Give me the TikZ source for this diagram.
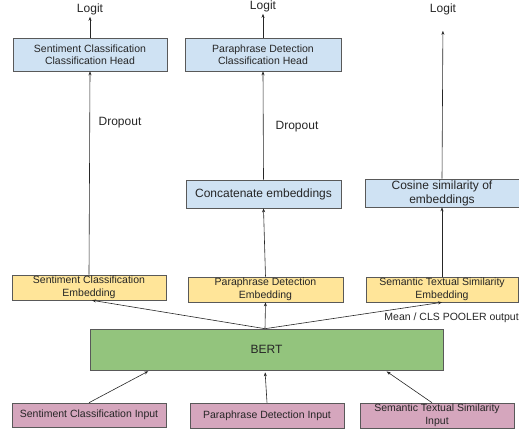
\documentclass[tikz,border=0pt]{standalone}
\usepackage{fontspec}
\setmainfont{Liberation Sans}
\usetikzlibrary{arrows.meta}
\definecolor{headblue}{HTML}{CFE2F3}
\definecolor{embyellow}{HTML}{FFE599}
\definecolor{bertgreen}{HTML}{93C47D}
\definecolor{inpink}{HTML}{D5A6BD}
\definecolor{edgegrey}{HTML}{595959}
\tikzset{
  box/.style={draw=edgegrey, line width=0.6pt, inner sep=0pt, align=center,
    text=black!85, font=\fontsize{10.5}{12.5}\selectfont},
  bigbox/.style={box, font=\fontsize{12}{14}\selectfont},
  lbl/.style={inner sep=0pt, text=black!85, font=\fontsize{12}{14}\selectfont},
  arr/.style={-{Stealth[length=4pt,width=3pt]}, draw=black!85, line width=0.6pt}
}
\begin{document}
\begin{tikzpicture}[x=1pt,y=-1pt]
        \useasboundingbox (0,0) rectangle (519,434);
        % heads and logits
        \node[box,fill=headblue,minimum width=154pt,minimum height=33pt] (headSA) at (90,54.5) {Sentiment Classification\\Classification Head};
        \node[box,fill=headblue,minimum width=156pt,minimum height=33pt] (headPD) at (263,54.5) {Paraphrase Detection\\Classification Head};
        \node[lbl] (logitSA) at (90,9) {Logit};
        \node[lbl] (logitPD) at (263,6) {Logit};
        \node[lbl] (logitSTS) at (443,9) {Logit};
        \node[lbl] (dropSA) at (120,123) {Dropout};
        \node[lbl] (dropPD) at (297,127) {Dropout};
        % middle boxes
        \node[bigbox,fill=headblue,minimum width=155pt,minimum height=28pt] (concat) at (263.5,194) {Concatenate embeddings};
        \node[bigbox,fill=headblue,minimum width=154pt,minimum height=28pt] (cosine) at (442,193) {Cosine similarity of\\embeddings};
        % embeddings
        \node[box,fill=embyellow,minimum width=154pt,minimum height=25pt] (embSA) at (89,287.5) {Sentiment Classification\\Embedding};
        \node[box,fill=embyellow,minimum width=155pt,minimum height=25pt] (embPD) at (265.5,289.5) {Paraphrase Detection\\Embedding};
        \node[box,fill=embyellow,minimum width=152pt,minimum height=25pt] (embSTS) at (442,289.5) {Semantic Textual Similarity\\Embedding};
        \node[box,draw=none,anchor=east] (pooler) at (519,318) {Mean / CLS POOLER output};
        % bert and inputs
        \node[bigbox,fill=bertgreen,minimum width=353pt,minimum height=41pt] (bert) at (266.5,349.5) {BERT};
        \node[box,fill=inpink,minimum width=154pt,minimum height=24pt] (inSA) at (89,415) {Sentiment Classification Input};
        \node[box,fill=inpink,minimum width=154pt,minimum height=25pt] (inPD) at (267,415.5) {Paraphrase Detection Input};
        \node[box,fill=inpink,minimum width=154pt,minimum height=25pt] (inSTS) at (437,415.5) {Semantic Textual Similarity\\Input};

        \draw[arr,shorten >=2pt] (inSA.north) -- ([xshift=-116.5pt]bert.south);
        \draw[arr,shorten >=2pt] (inPD.north) -- ([xshift=-1.5pt]bert.south);
        \draw[arr,shorten >=2pt] ([xshift=-5pt]inSTS.north) -- ([xshift=118.5pt]bert.south);
        \draw[arr] ([xshift=-1.5pt]bert.north) -- ([xshift=3pt]embSA.south);
        \draw[arr] ([xshift=-1.5pt]bert.north) -- (embPD.south);
        \draw[arr] ([xshift=-1.5pt]bert.north) -- (embSTS.south);
        \draw[arr] (embSA.north) -- (headSA.south);
        \draw[arr] (embPD.north) -- (concat.south);
        \draw[arr] (concat.north) -- (headPD.south);
        \draw[arr] (embSTS.north) -- (cosine.south);
        \draw[arr,shorten >=16pt] (cosine.north) -- (logitSTS.south);
        \draw[arr,shorten >=2pt] (headSA.north) -- (logitSA.south);
        \draw[arr,shorten >=2pt] (headPD.north) -- (logitPD.south);
    \end{tikzpicture}
\end{document}
